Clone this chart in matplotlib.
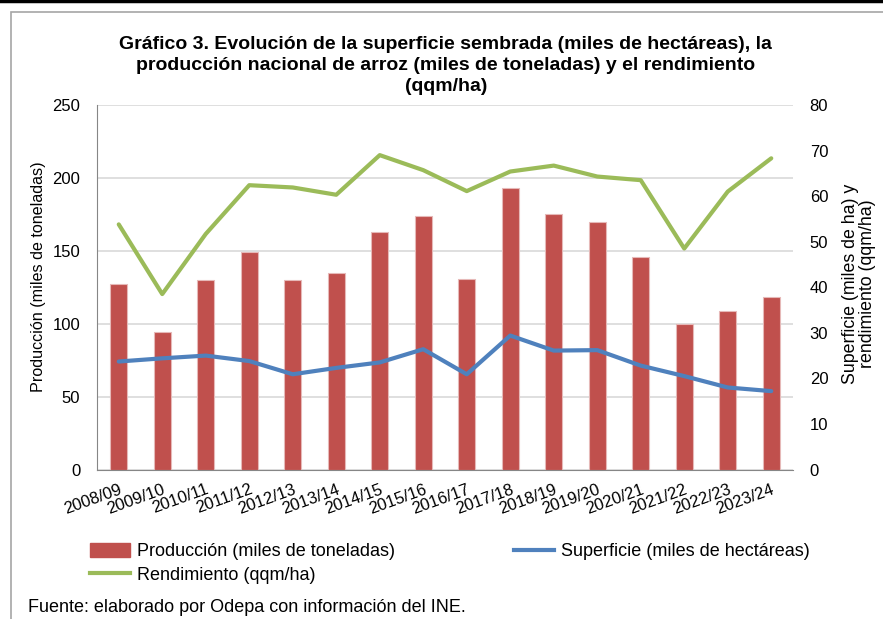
import matplotlib
matplotlib.use("Agg")
import matplotlib.pyplot as plt
from matplotlib.patches import Rectangle
from matplotlib.lines import Line2D

plt.rcParams['font.family'] = ['Liberation Sans', 'DejaVu Sans']

temporadas = ["2008/09", "2009/10", "2010/11", "2011/12", "2012/13", "2013/14",
              "2014/15", "2015/16", "2016/17", "2017/18", "2018/19", "2019/20",
              "2020/21", "2021/22", "2022/23", "2023/24"]
produccion = [127, 94, 130, 149, 130, 135, 163, 174, 131, 193, 175, 170,
              146, 100, 109, 118]
superficie = [23.7, 24.4, 25.0, 23.8, 20.9, 22.3, 23.5, 26.4, 20.9, 29.4,
              26.1, 26.2, 22.8, 20.5, 18.0, 17.2]
rendimiento = [53.8, 38.5, 51.7, 62.4, 61.9, 60.3, 69.0, 65.7, 61.1, 65.4,
               66.7, 64.3, 63.5, 48.5, 61.0, 68.3]

rojo = "#C0504D"
azul = "#4F81BD"
verde = "#9BBB59"
gris = "#868686"

fig = plt.figure(figsize=(8.83, 6.19), dpi=100)

# marco del grafico
fig.add_artist(Rectangle((11 / 883, -0.1), 1.2, 1 - 12 / 619 + 0.1,
                         transform=fig.transFigure, fill=False,
                         edgecolor="#A6A6A6", linewidth=1.2))
fig.add_artist(Line2D([0, 1], [1 - 1 / 619, 1 - 1 / 619],
                      transform=fig.transFigure, color="black", linewidth=2.5))

ax = fig.add_axes([97 / 883, 149.5 / 619, 696 / 883, 364.5 / 619])
ax2 = ax.twinx()

x = range(len(temporadas))
ax.bar(x, produccion, width=0.39, color=rojo, edgecolor="#E6B9B8",
       linewidth=0.8, zorder=2)
ax.set_ylim(0, 250)
ax.set_yticks(range(0, 251, 50))
ax.set_xlim(-0.5, len(temporadas) - 0.5)
ax.grid(axis="y", color="#D9D9D9", linewidth=1.2, zorder=0)
ax.set_axisbelow(True)

ax2.plot(x, superficie, color=azul, linewidth=3, solid_capstyle="round",
         solid_joinstyle="round")
ax2.plot(x, rendimiento, color=verde, linewidth=3, solid_capstyle="round",
         solid_joinstyle="round")
ax2.set_ylim(0, 80)
ax2.set_yticks(range(0, 81, 10))

for a in (ax, ax2):
    for s in a.spines.values():
        s.set_visible(False)
ax.spines["left"].set_visible(True)
ax.spines["bottom"].set_visible(True)
ax.spines["left"].set_color(gris)
ax.spines["bottom"].set_color(gris)

ax.tick_params(axis="y", length=0, pad=12, labelsize=12)
ax2.tick_params(axis="y", length=0, pad=12, labelsize=12)
ax.tick_params(axis="x", length=0, pad=9, labelsize=12)
ax.set_xticks(list(x))
ax.set_xticklabels(temporadas, rotation=20, ha="right", rotation_mode="anchor")

ax.set_ylabel("Producción (miles de toneladas)", fontsize=11.6)
ax.yaxis.set_label_coords(-0.073, 0.53)
ax2.set_ylabel("Superficie (miles de ha) y\nrendimiento (qqm/ha)", fontsize=12.8,
               linespacing=1.0)
ax2.yaxis.set_label_coords(1.071, 0.51)

fig.text(0.505, 1 - 36 / 619,
         "Gráfico 3. Evolución de la superficie sembrada (miles de hectáreas), la\n"
         "producción nacional de arroz (miles de toneladas) y el rendimiento\n"
         "(qqm/ha)", ha="center", va="top", fontsize=14, fontweight="bold",
         linespacing=1.32)

handles = [Rectangle((0, 0), 1, 1, color=rojo),
           Line2D([], [], color=azul, linewidth=3),
           Line2D([], [], color=verde, linewidth=3)]
labels = ["Producción (miles de toneladas)", "Superficie (miles de hectáreas)",
          "Rendimiento (qqm/ha)"]
fig.legend([handles[0], handles[2], handles[1]],
           [labels[0], labels[2], labels[1]], ncol=2, frameon=False,
           fontsize=13, loc="upper left", bbox_to_anchor=(74 / 883, 1 - 527 / 619),
           handlelength=2.2, handleheight=0.8, columnspacing=6.6,
           labelspacing=0.35, handletextpad=0.4)

fig.text(28 / 883, 1 - 607 / 619,
         "Fuente: elaborado por Odepa con información del INE.",
         ha="left", va="center", fontsize=13)

fig.savefig("out.png", dpi=100)
